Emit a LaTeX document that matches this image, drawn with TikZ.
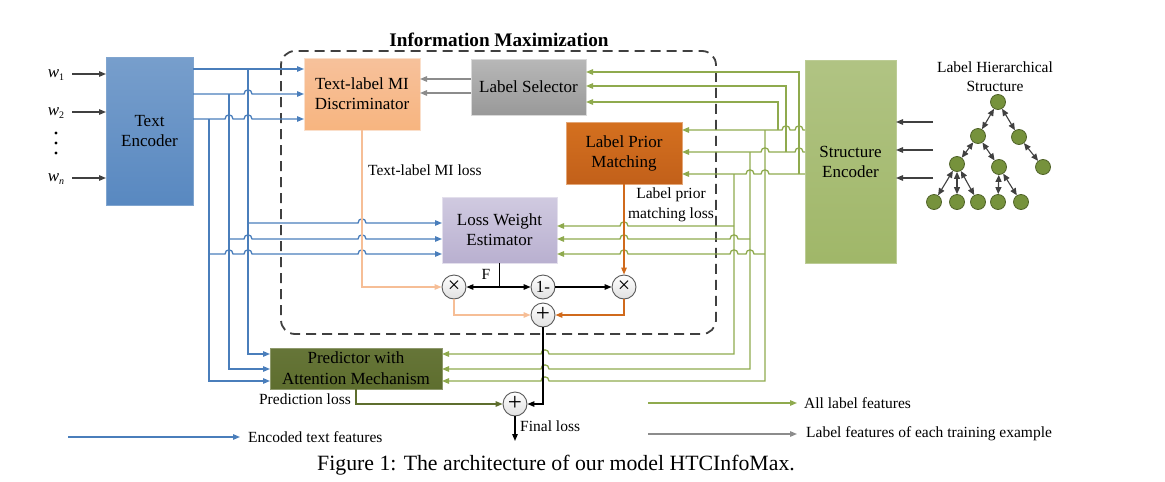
\documentclass[tikz,border=0pt]{standalone}
\usepackage{fontspec}
\setmainfont{Liberation Serif}
\usetikzlibrary{arrows.meta}
\definecolor{cBlue}{HTML}{4A7EBB}
\definecolor{cGreen}{HTML}{8FAA4E}
\definecolor{cGray}{HTML}{8C8C8C}
\definecolor{cPeach}{HTML}{F6BE96}
\definecolor{cOrange}{HTML}{D06A1C}
\definecolor{cOlive}{HTML}{5E6E2E}
\definecolor{cDark}{HTML}{404040}
\definecolor{cTreeFill}{HTML}{76923C}
\definecolor{cTreeLine}{HTML}{4F6228}
\definecolor{cLavTop}{HTML}{D0CAE0}
\definecolor{cLavBot}{HTML}{B9B0D0}
\definecolor{cOrTop}{HTML}{D4701F}
\definecolor{cOrBot}{HTML}{C2601A}
\newcommand\hopR[2]{-- (#1-4,#2) .. controls (#1-4,#2-5.5) and (#1+4,#2-5.5) .. (#1+4,#2)}
\newcommand\hopL[2]{-- (#1+4,#2) .. controls (#1+4,#2-5.5) and (#1-4,#2-5.5) .. (#1-4,#2)}
\tikzset{
  arr/.style={-{Triangle[length=7pt,width=5.5pt]}},
  wBlue/.style={draw=cBlue, line width=1.3pt},
  wGreen/.style={draw=cGreen, line width=1.3pt},
  wGray/.style={draw=cGray, line width=1.3pt},
  wPeach/.style={draw=cPeach, line width=1.3pt},
  wOrange/.style={draw=cOrange, line width=1.3pt},
  wBlack/.style={draw=black, line width=1.3pt},
  wOlive/.style={draw=cOlive, line width=1.3pt},
  wDark/.style={draw=cDark, line width=1.3pt},
  boxn/.style={anchor=north west, outer sep=0pt, inner sep=0pt, align=center,
    font=\fontsize{17}{20}\selectfont, line width=0.8pt},
  opn/.style={circle, draw=black!65, line width=0.9pt, inner sep=0pt, minimum size=24pt,
    top color=white, bottom color=black!12, font=\fontsize{17}{17}\selectfont},
  opbig/.style={font=\fontsize{25}{25}\selectfont},
  tnode/.style={circle, draw=cTreeLine, fill=cTreeFill, minimum size=15pt, inner sep=0pt, line width=0.8pt},
  tedge/.style={wDark, line width=1.1pt, {Triangle[length=7pt,width=6pt]}-{Triangle[length=7pt,width=6pt]}},
  lbl/.style={inner sep=0pt, font=\fontsize{15.5}{20}\selectfont},
  wlbl/.style={inner sep=0pt, font=\fontsize{17}{17}\selectfont\itshape}
}
\begin{document}
\begin{tikzpicture}[x=1pt,y=-1pt]
\useasboundingbox (0,0) rectangle (1165,482);

% ---------- boxes ----------
\node[boxn, minimum width=87pt, minimum height=148pt, top color=cBlue!75!white, bottom color=cBlue!92!white, draw=cBlue!70!white] (TE) at (106,57) {Text\\Encoder};
\node[boxn, minimum width=116pt, minimum height=72pt, top color=cPeach!95!white, bottom color=cPeach!85!orange, draw=cPeach!50!white] (Disc) at (304,58) {Text-label MI\\Discriminator};
\node[boxn, minimum width=115pt, minimum height=56pt, top color=black!28, bottom color=black!40, draw=black!15] (LS) at (471,59) {Label Selector};
\node[boxn, minimum width=116pt, minimum height=62pt, top color=cOrTop, bottom color=cOrBot, draw=cOrange!60!white] (LPM) at (566,122) {Label Prior\\Matching};
\node[boxn, minimum width=115pt, minimum height=66pt, top color=cLavTop, bottom color=cLavBot, draw=cLavTop!60!white] (LWE) at (442,197) {Loss Weight\\Estimator};
\node[boxn, minimum width=91pt, minimum height=203pt, top color=cGreen!70!white, bottom color=cGreen!85!white, draw=cGreen!60!white] (SE) at (805,60) {Structure\\Encoder};
\node[boxn, minimum width=172pt, minimum height=41pt, top color=cOlive!95!white, bottom color=cOlive, draw=cOlive!70!white, font=\fontsize{17}{21}\selectfont] (Pred) at (270,348) {Predictor with\\Attention Mechanism};

% ---------- information maximization frame ----------
\draw[draw=cDark, line width=1.8pt, dash pattern=on 10pt off 6pt, rounded corners=14pt] (281,51) rectangle (716,334);
\node[inner sep=0pt, font=\fontsize{19.2}{19}\selectfont\bfseries] (IMT) at (499,40) {Information Maximization};

% ---------- operator nodes ----------
\node[opn] (M1) at (454,287) {\fontsize{22}{22}\selectfont ×};
\node[opn] (OM) at (543,287) {1-};
\node[opn] (M2) at (624,287) {\fontsize{22}{22}\selectfont ×};
\node[opn] (P1) at (543,315) {\fontsize{25}{25}\selectfont\raisebox{1pt}{+}};
\node[opn] (PF) at (515,404) {\fontsize{25}{25}\selectfont\raisebox{1pt}{+}};

% ---------- inputs ----------
\node[wlbl] (W1) at (56,75) {w\raisebox{-3pt}{\fontsize{10}{10}\selectfont\upshape 1}};
\node[wlbl] (W2) at (56,113) {w\raisebox{-3pt}{\fontsize{10}{10}\selectfont\upshape 2}};
\node[wlbl] (WN) at (56,179) {w\raisebox{-3pt}{\fontsize{10}{10}\selectfont n}};
\fill (56,133) circle (1.6pt) (56,143) circle (1.6pt) (56,153) circle (1.6pt);
\draw[wDark, arr] (72,74) -- (TE.west |- 0,74);
\draw[wDark, arr] (72,112) -- (TE.west |- 0,112);
\draw[wDark, arr] (72,178) -- (TE.west |- 0,178);

% ---------- blue wires ----------
\draw[wBlue, arr] (TE.east |- 0,69) -- (Disc.west |- 0,69);
\draw[wBlue, arr] (TE.east |- 0,94) \hopR{248}{94} -- (Disc.west |- 0,94);
\draw[wBlue, arr] (TE.east |- 0,119) \hopR{229}{119} \hopR{248}{119} -- (Disc.west |- 0,119);
\draw[wBlue, arr] (248,69) -- (248,354) -- (Pred.west |- 0,354);
\draw[wBlue, arr] (229,94) -- (229,369) -- (Pred.west |- 0,369);
\draw[wBlue, arr] (209,119) -- (209,381) -- (Pred.west |- 0,381);
\draw[wBlue, arr] (248,223) \hopR{362}{223} -- (LWE.west |- 0,223);
\draw[wBlue, arr] (229,239) \hopR{248}{239} \hopR{362}{239} -- (LWE.west |- 0,239);
\draw[wBlue, arr] (209,254) \hopR{229}{254} \hopR{248}{254} \hopR{362}{254} -- (LWE.west |- 0,254);

% ---------- gray wires ----------
\draw[wGray, arr] (LS.west |- 0,79) -- (Disc.east |- 0,79);
\draw[wGray, arr] (LS.west |- 0,93) -- (Disc.east |- 0,93);

% ---------- green wires ----------
\draw[wGreen, arr] (SE.west |- 0,130) \hopL{799}{130} \hopL{786}{130} -- (LPM.east |- 0,130);
\draw[wGreen, arr] (SE.west |- 0,152) \hopL{799}{152} \hopL{765}{152} -- (LPM.east |- 0,152);
\draw[wGreen, arr] (SE.west |- 0,174) \hopL{765}{174} \hopL{750}{174} -- (LPM.east |- 0,174);
\draw[wGreen, arr] (778,130) -- (778,102) -- (LS.east |- 0,102);
\draw[wGreen, arr] (786,152) -- (786,86) -- (LS.east |- 0,86);
\draw[wGreen, arr] (799,174) -- (799,72) -- (LS.east |- 0,72);
\draw[wGreen, arr] (765,130) -- (765,381) \hopL{545}{381} -- (Pred.east |- 0,381);
\draw[wGreen, arr] (750,152) -- (750,369) \hopL{545}{369} -- (Pred.east |- 0,369);
\draw[wGreen, arr] (734,174) -- (734,354) \hopL{545}{354} -- (Pred.east |- 0,354);
\draw[wGreen, arr] (734,226) \hopL{624}{226} -- (LWE.east |- 0,226);
\draw[wGreen, arr] (750,239) \hopL{734}{239} \hopL{624}{239} -- (LWE.east |- 0,239);
\draw[wGreen, arr] (765,254) \hopL{750}{254} \hopL{734}{254} \hopL{624}{254} -- (LWE.east |- 0,254);

% ---------- loss wires ----------
\draw[wPeach, arr] (Disc.south) -- (362,287) -- (M1.west);
\draw[wPeach, arr] (M1.south) -- (454,315) -- (P1.west);
\draw[wOrange, arr] (LPM.south) -- (M2.north);
\draw[wOrange, arr] (M2.south) -- (624,315) -- (P1.east);
\coordinate (FJ) at (LWE.south |- 0,287);
\draw[wBlack] (LWE.south) -- (FJ);
\draw[wBlack, arr] (FJ) -- (M1.east);
\draw[wBlack, arr] (FJ) -- (OM.west);
\draw[wBlack, arr] (OM.east) -- (M2.west);
\draw[wBlack, arr] (P1.south) -- (543,404) -- (PF.east);
\draw[wOlive, arr] (Pred.south -| 356,0) -- (356,404) -- (PF.west);
\coordinate (FL) at (515,441);
\draw[wBlack, arr] (PF.south) -- (FL);

% ---------- labels ----------
\node[lbl, anchor=west] (LMI) at (368,170) {Text-label MI loss};
\node[lbl] (LF) at (486,274) {F};
\node[lbl, align=center] (LLP) at (671,205) {Label prior\\matching loss};
\node[lbl, anchor=east] (LPL) at (351,399) {Prediction loss};
\node[lbl, anchor=west] (LFL) at (520,426) {Final loss};

% ---------- label hierarchy ----------
\node[lbl, align=center, font=\fontsize{15.5}{19}\selectfont] (LHS) at (995,77) {Label Hierarchical\\Structure};
\node[tnode] (T0) at (998,102) {};
\node[tnode] (T1) at (978,136) {};
\node[tnode] (T2) at (1019,137) {};
\node[tnode] (T3) at (957,164) {};
\node[tnode] (T4) at (999,167) {};
\node[tnode] (T5) at (1043,167) {};
\node[tnode] (T6) at (934,202) {};
\node[tnode] (T7) at (957,202) {};
\node[tnode] (T8) at (978,202) {};
\node[tnode] (T9) at (998,202) {};
\node[tnode] (T10) at (1021,202) {};
\draw[tedge] (T0) -- (T1);
\draw[tedge] (T0) -- (T2);
\draw[tedge] (T1) -- (T3);
\draw[tedge] (T1) -- (T4);
\draw[tedge] (T2) -- (T5);
\draw[tedge] (T3) -- (T6);
\draw[tedge] (T3) -- (T7);
\draw[tedge] (T3) -- (T8);
\draw[tedge] (T4) -- (T9);
\draw[tedge] (T4) -- (T10);
\coordinate (S1) at (933,122);
\coordinate (S2) at (933,150);
\coordinate (S3) at (933,178);
\draw[wDark, arr] (S1) -- (SE.east |- S1);
\draw[wDark, arr] (S2) -- (SE.east |- S2);
\draw[wDark, arr] (S3) -- (SE.east |- S3);

% ---------- legend ----------
\node[lbl, anchor=west] (LG1) at (248,437) {Encoded text features};
\coordinate (LG1s) at (68,437);
\draw[wBlue, arr] (LG1s) -- (LG1.west -| 240,0);
\node[lbl, anchor=west] (LG2) at (804,403) {All label features};
\coordinate (LG2s) at (648,403);
\draw[wGreen, arr] (LG2s) -- (797,403);
\node[lbl, anchor=west] (LG3) at (806,434) {Label features of each training example};
\coordinate (LG3s) at (648,434);
\draw[wGray, arr] (LG3s) -- (797,434);

% ---------- caption ----------
\node[inner sep=0pt, font=\fontsize{21.8}{22}\selectfont] (CAP) at (556,465) {Figure 1: The architecture of our model HTCInfoMax.};
\end{tikzpicture}
\end{document}
